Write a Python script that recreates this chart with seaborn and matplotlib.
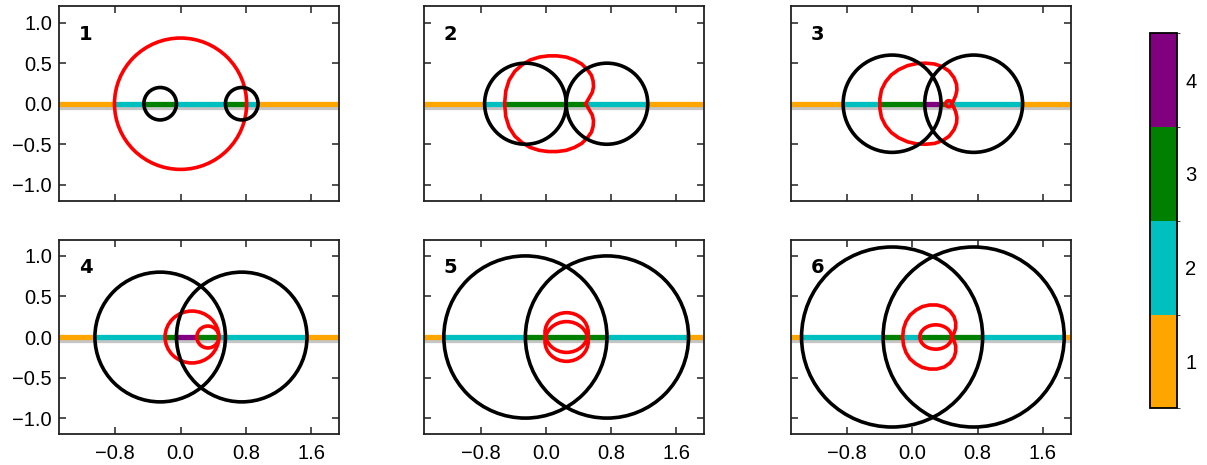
import numpy as np
import matplotlib
matplotlib.use("Agg")
import matplotlib.pyplot as plt
import seaborn as sns
from matplotlib.patches import Circle, Ellipse
from matplotlib.colors import ListedColormap, BoundaryNorm
from matplotlib.cm import ScalarMappable
import matplotlib.patheffects as pe

# ---------------- data ----------------
panel_labels = ["1", "2", "3", "4", "5", "6"]
region_colors = ["orange", "c", "green", "purple"]
region_values = [1, 2, 3, 4]

# black circles: centres on the x axis and common radius per panel
circle_centers = [-0.25, 0.75]
circle_radii = [0.2, 0.5, 0.6, 0.8, 1.0, 1.11]

# colour band along y = 0: segment edges and region number
band_edges = [
    [-1.49, -0.81, -0.45, -0.05, 0.55, 0.81, 0.95, 1.94],
    [-1.49, -0.75, -0.50, 0.50, 1.25, 1.94],
    [-1.49, -0.85, -0.40, 0.15, 0.35, 0.42, 1.35, 1.94],
    [-1.49, -1.05, -0.19, -0.05, 0.20, 0.48, 1.55, 1.94],
    [-1.49, -1.25, -0.25, 0.75, 1.75, 1.94],
    [-1.49, -1.36, -0.36, -0.11, 0.10, 0.86, 1.86, 1.94],
]
band_values = [
    [1, 2, 3, 2, 3, 2, 1],
    [1, 2, 3, 2, 1],
    [1, 2, 3, 4, 3, 2, 1],
    [1, 2, 3, 4, 3, 2, 1],
    [1, 2, 3, 2, 1],
    [1, 2, 3, 2, 3, 2, 1],
]

# red curves: near-elliptic loops (cx, cy, width, height) per panel
red_loops = [
    [(0.0, 0.0, 1.62, 1.62)],
    [],
    [(0.445, 0.0, 0.075, 0.075)],
    [(0.14, 0.0, 0.66, 0.64), (0.335, 0.0, 0.27, 0.27)],
    [(0.255, 0.055, 0.53, 0.49), (0.255, -0.055, 0.53, 0.49)],
    [(0.285, 0.0, 0.39, 0.30)],
]

# red curves: traced outlines (x, y) for non-elliptic loops
red2_x = [0.49, 0.53, 0.57, 0.585, 0.58, 0.56, 0.51, 0.44, 0.35, 0.25, 0.14, 0.03,
          -0.08, -0.19, -0.29, -0.38, -0.45, -0.49, -0.505,
          -0.49, -0.45, -0.38, -0.29, -0.19, -0.08, 0.03, 0.14, 0.25, 0.35, 0.44,
          0.51, 0.56, 0.58, 0.585, 0.57, 0.53, 0.49]
red2_y = [0.00, 0.07, 0.14, 0.21, 0.28, 0.35, 0.42, 0.49, 0.54, 0.575, 0.59, 0.59,
          0.575, 0.54, 0.48, 0.40, 0.29, 0.16, 0.0,
          -0.16, -0.29, -0.40, -0.48, -0.54, -0.575, -0.59, -0.59, -0.575, -0.54, -0.49,
          -0.42, -0.35, -0.28, -0.21, -0.14, -0.07, 0.00]

red3_x = [0.48, 0.50, 0.53, 0.545, 0.54, 0.51, 0.45, 0.37, 0.27, 0.16, 0.05, -0.06,
          -0.17, -0.26, -0.33, -0.38, -0.40, -0.40,
          -0.40, -0.38, -0.33, -0.26, -0.17, -0.06, 0.05, 0.16, 0.27, 0.37, 0.45,
          0.51, 0.54, 0.545, 0.53, 0.50, 0.48]
red3_y = [0.0, 0.03, 0.10, 0.17, 0.24, 0.32, 0.40, 0.455, 0.49, 0.50, 0.495, 0.47,
          0.42, 0.355, 0.27, 0.17, 0.06, 0.0,
          -0.06, -0.17, -0.27, -0.355, -0.42, -0.47, -0.495, -0.50, -0.49, -0.455, -0.40,
          -0.32, -0.24, -0.17, -0.10, -0.03, 0.0]

red6_x = [0.48, 0.51, 0.53, 0.53, 0.51, 0.46, 0.39, 0.30, 0.21, 0.12, 0.04, -0.03,
          -0.08, -0.11, -0.12,
          -0.11, -0.08, -0.03, 0.04, 0.12, 0.21, 0.30, 0.39, 0.46, 0.51, 0.53, 0.53,
          0.51, 0.48]
red6_y = [0.0, 0.05, 0.11, 0.18, 0.25, 0.32, 0.37, 0.395, 0.395, 0.375, 0.33, 0.27,
          0.19, 0.10, 0.0,
          -0.10, -0.19, -0.27, -0.33, -0.375, -0.395, -0.395, -0.37, -0.32, -0.25, -0.18,
          -0.11, -0.05, 0.0]

red_traces = [[], [(red2_x, red2_y)], [(red3_x, red3_y)], [], [], [(red6_x, red6_y)]]

xticks = [-0.8, 0.0, 0.8, 1.6]
xticklabels = ["\u22120.8", "0.0", "0.8", "1.6"]
yticks = [-1.0, -0.5, 0.0, 0.5, 1.0]
yticklabels = ["\u22121.0", "\u22120.5", "0.0", "0.5", "1.0"]
xlim = (-1.49, 1.94)
ylim = (-1.2, 1.2)

# ---------------- style ----------------
sns.set_style("ticks")
plt.rcParams["font.family"] = ["Liberation Sans", "DejaVu Sans"]
plt.rcParams["axes.linewidth"] = 1.3
plt.rcParams["axes.edgecolor"] = "#222222"
plt.rcParams["text.color"] = "black"
plt.rcParams["xtick.color"] = "#222222"
plt.rcParams["ytick.color"] = "#222222"
plt.rcParams["xtick.labelcolor"] = "black"
plt.rcParams["ytick.labelcolor"] = "black"

fig = plt.figure(figsize=(12.07, 4.65), dpi=100)

lefts = [0.0489, 0.3515, 0.6553]
bottoms = [0.5677, 0.0660]
w, h = 0.2318, 0.4185

cmap = ListedColormap(region_colors)
norm = BoundaryNorm([0.5, 1.5, 2.5, 3.5, 4.5], cmap.N)
TICK_FS = 14.5

for i in range(6):
    row, col = divmod(i, 3)
    ax = fig.add_axes([lefts[col], bottoms[row], w, h])
    ax.set_xlim(*xlim)
    ax.set_ylim(*ylim)

    # band along y=0
    edges = band_edges[i]
    vals = band_values[i]
    for k, v in enumerate(vals):
        ax.plot([edges[k], edges[k + 1]], [0, 0], color=cmap(norm(v)), lw=3.8,
                solid_capstyle="butt", zorder=1,
                path_effects=[pe.SimpleLineShadow(offset=(0, -2.2), shadow_color="gray", alpha=0.45),
                              pe.Normal()])

    # red curves
    for (cx, cy, ew, eh) in red_loops[i]:
        ax.add_patch(Ellipse((cx, cy), ew, eh, fill=False, ec="red", lw=2.6, zorder=3))
    for (tx, ty) in red_traces[i]:
        sns.lineplot(x=tx, y=ty, sort=False, estimator=None, color="red", lw=2.6,
                     ax=ax, zorder=3)

    # black circles (drawn above the red curves)
    r = circle_radii[i]
    for c in circle_centers:
        ax.add_patch(Circle((c, 0.0), r, fill=False, ec="black", lw=2.6, zorder=4))

    ax.set_xlabel("")
    ax.set_ylabel("")
    ax.set_xticks(xticks)
    ax.set_yticks(yticks)
    ax.set_xticklabels(xticklabels if row == 1 else [""] * len(xticks))
    ax.set_yticklabels(yticklabels if col == 0 else [""] * len(yticks))
    ax.tick_params(axis="both", direction="in", top=True, right=True, length=5,
                   width=1.1, labelsize=TICK_FS)
    ax.tick_params(axis="x", pad=7)
    ax.tick_params(axis="y", pad=5)
    for s in ax.spines.values():
        s.set_visible(True)
        s.set_zorder(5)
    ax.text(0.07, 0.905, panel_labels[i], transform=ax.transAxes, ha="left", va="top",
            fontsize=14, fontweight="bold", family="DejaVu Sans", color="black")

cax = fig.add_axes([0.9528, 0.1219, 0.0221, 0.8065])
sm = ScalarMappable(norm=norm, cmap=cmap)
cb = fig.colorbar(sm, cax=cax, ticks=region_values)
cb.outline.set_linewidth(1.3)
cb.outline.set_edgecolor("black")
cax.tick_params(direction="in", length=6, width=1.1, labelsize=TICK_FS, pad=6)
cax.set_yticklabels([str(v) for v in region_values])

fig.savefig("out.png", dpi=100)
